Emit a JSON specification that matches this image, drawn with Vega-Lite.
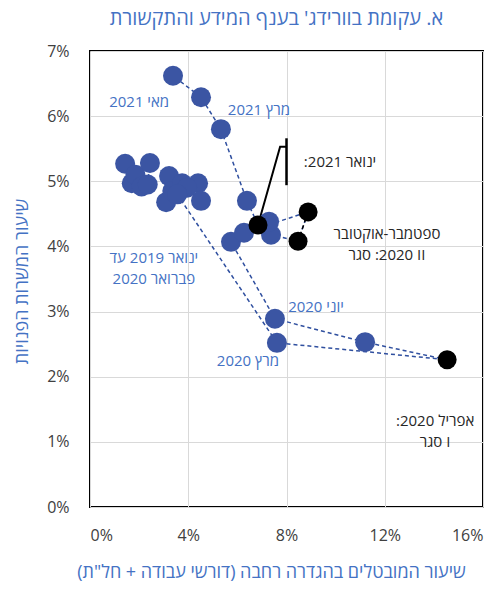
{
  "$schema": "https://vega.github.io/schema/vega-lite/v6.json",
  "width": 393,
  "height": 456,
  "autosize": "none",
  "padding": {"left": 90, "top": 51, "right": 21, "bottom": 82},
  "config": {
    "font": "Open Sans",
    "view": {"stroke": "black", "strokeWidth": 2},
    "axis": {
      "grid": true, "gridColor": "#D9D9D9", "gridWidth": 1,
      "domain": false, "ticks": false,
      "labelFontSize": 16, "labelColor": "#404040", "labelFont": "Open Sans",
      "titleFontSize": 18, "titleColor": "#4472C4", "titleFontWeight": "normal", "titleFont": "Open Sans"
    }
  },
  "title": {
    "text": "\u200fא. עקומת בוורידג' בענף המידע והתקשורת\u200f",
    "fontSize": 20, "fontWeight": "normal", "color": "#4472C4", "font": "Open Sans",
    "anchor": "middle", "dx": -10, "offset": 14
  },
  "datasets": {
    "pts": [
      {"m": 1, "x": 0.0143, "y": 0.0527, "g": "blue"},
      {"m": 2, "x": 0.0170, "y": 0.0497, "g": "blue"},
      {"m": 3, "x": 0.0185, "y": 0.0510, "g": "blue"},
      {"m": 4, "x": 0.0210, "y": 0.0492, "g": "blue"},
      {"m": 5, "x": 0.0235, "y": 0.0495, "g": "blue"},
      {"m": 6, "x": 0.0244, "y": 0.0528, "g": "blue"},
      {"m": 7, "x": 0.0322, "y": 0.0508, "g": "blue"},
      {"m": 8, "x": 0.0310, "y": 0.0468, "g": "blue"},
      {"m": 9, "x": 0.0335, "y": 0.0485, "g": "blue"},
      {"m": 10, "x": 0.0375, "y": 0.0497, "g": "blue"},
      {"m": 11, "x": 0.0440, "y": 0.0497, "g": "blue"},
      {"m": 12, "x": 0.0452, "y": 0.0470, "g": "blue"},
      {"m": 13, "x": 0.0395, "y": 0.0490, "g": "blue"},
      {"m": 14, "x": 0.0355, "y": 0.0480, "g": "blue"},
      {"m": 15, "x": 0.0761, "y": 0.0252, "g": "blue"},
      {"m": 16, "x": 0.1454, "y": 0.0226, "g": "black"},
      {"m": 17, "x": 0.1120, "y": 0.0253, "g": "blue"},
      {"m": 18, "x": 0.0753, "y": 0.0289, "g": "blue"},
      {"m": 19, "x": 0.0574, "y": 0.0407, "g": "blue"},
      {"m": 20, "x": 0.0627, "y": 0.0421, "g": "blue"},
      {"m": 21, "x": 0.0888, "y": 0.0453, "g": "black"},
      {"m": 22, "x": 0.0847, "y": 0.0408, "g": "black"},
      {"m": 23, "x": 0.0737, "y": 0.0418, "g": "blue"},
      {"m": 24, "x": 0.0729, "y": 0.0438, "g": "blue"},
      {"m": 25, "x": 0.0684, "y": 0.0433, "g": "black"},
      {"m": 26, "x": 0.0639, "y": 0.0470, "g": "blue"},
      {"m": 27, "x": 0.0533, "y": 0.0580, "g": "blue"},
      {"m": 28, "x": 0.0452, "y": 0.0629, "g": "blue"},
      {"m": 29, "x": 0.0338, "y": 0.0662, "g": "blue"}
    ],
    "callout": [
      {"o": 1, "x": 0.0684, "y": 0.0433},
      {"o": 2, "x": 0.0774, "y": 0.0553},
      {"o": 3, "x": 0.0800, "y": 0.0553}
    ],
    "bar": [{"x": 0.0800, "y": 0.0494, "y2": 0.0566}],
    "labels": [
      {"t": "\u200fמאי 2021\u200f", "x": 0.0200, "y": 0.0622, "k": "blue"},
      {"t": "\u200fמרץ 2021\u200f", "x": 0.0688, "y": 0.0609, "k": "blue"},
      {"t": "\u200fינואר 2021:\u200f", "x": 0.1018, "y": 0.0530, "k": "black"},
      {"t": "\u200fספטמבר-אוקטובר\u200f\n\u200f2020: סגר II\u200f", "x": 0.1209, "y": 0.0419, "k": "black"},
      {"t": "\u200fאפריל 2020:\u200f\n\u200fסגר I\u200f", "x": 0.1405, "y": 0.0132, "k": "black"},
      {"t": "\u200fיוני 2020\u200f", "x": 0.0920, "y": 0.0307, "k": "blue"},
      {"t": "\u200fמרץ 2020\u200f", "x": 0.0643, "y": 0.0224, "k": "blue"},
      {"t": "\u200fינואר 2019 עד\u200f\n\u200fפברואר 2020\u200f", "x": 0.0260, "y": 0.0382, "k": "blue"}
    ]
  },
  "encoding": {
    "x": {"field": "x", "type": "quantitative",
      "scale": {"domain": [0, 0.16], "nice": false, "zero": false},
      "axis": {"values": [0, 0.04, 0.08, 0.12, 0.16], "format": ".0%", "labelPadding": 20,
        "title": "\u200fשיעור המובטלים בהגדרה רחבה (דורשי עבודה + חל\"ת)\u200f",
        "titleX": 181, "titleY": 65, "titleBaseline": "middle", "titleAnchor": "middle"}},
    "y": {"field": "y", "type": "quantitative",
      "scale": {"domain": [0, 0.07], "nice": false, "zero": false},
      "axis": {"values": [0, 0.01, 0.02, 0.03, 0.04, 0.05, 0.06, 0.07], "format": ".0%", "labelPadding": 21,
        "title": "\u200fשיעור המשרות הפנויות\u200f",
        "titleX": -68, "titleY": 230, "titleBaseline": "middle", "titleAngle": -90, "titleAnchor": "middle"}}
  },
  "layer": [
    {
      "data": {"name": "pts"},
      "mark": {"type": "line", "color": "#2F4F9F", "strokeWidth": 1.5, "strokeDash": [4, 3]},
      "encoding": {"order": {"field": "m", "type": "quantitative"}}
    },
    {
      "data": {"name": "pts"},
      "transform": [{"filter": "datum.m == 21 || datum.m == 22"}],
      "mark": {"type": "line", "color": "black", "strokeWidth": 1.5, "strokeDash": [4, 3]},
      "encoding": {"order": {"field": "m", "type": "quantitative"}}
    },
    {
      "data": {"name": "callout"},
      "mark": {"type": "line", "color": "black", "strokeWidth": 2},
      "encoding": {"order": {"field": "o", "type": "quantitative"}}
    },
    {
      "data": {"name": "bar"},
      "mark": {"type": "rule", "color": "black", "strokeWidth": 2.5},
      "encoding": {"y2": {"field": "y2"}}
    },
    {
      "data": {"name": "pts"},
      "transform": [{"filter": "datum.g == 'blue'"}],
      "mark": {"type": "circle", "color": "#3B55A3", "opacity": 1, "size": 400}
    },
    {
      "data": {"name": "pts"},
      "transform": [{"filter": "datum.g == 'black'"}],
      "mark": {"type": "circle", "color": "black", "opacity": 1, "size": 360}
    },
    {
      "data": {"name": "labels"},
      "mark": {"type": "text", "fontSize": 15, "lineBreak": "\n", "lineHeight": 21, "align": "center", "baseline": "middle", "font": "Open Sans"},
      "encoding": {
        "text": {"field": "t"},
        "color": {"field": "k", "type": "nominal", "scale": {"domain": ["blue", "black"], "range": ["#4472C4", "#262626"]}, "legend": null}
      }
    }
  ]
}
